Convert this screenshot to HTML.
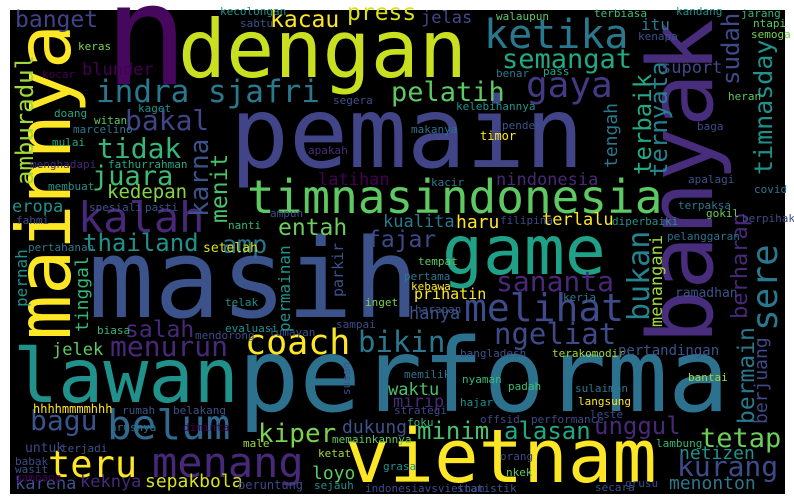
<!DOCTYPE html>
<html><head><meta charset="utf-8"><style>
html,body{margin:0;padding:0;background:#fff;}
svg{display:block;}
text{font-family:"DejaVu Sans Mono","Liberation Mono",monospace;}
</style></head><body>
<svg id="cloud" width="794" height="504" viewBox="0 0 794 504" xmlns="http://www.w3.org/2000/svg">
<rect x="10" y="10" width="775" height="484" fill="#000"/>
<g id="words"></g>
</svg>
<script>
// word list, sizes (weights), colours and orientation (1 = vertical)
const words = ["pemain","masih","performa","vietnam","dengan","lawan","game","mainnya","banyak","n","ketika","gaya","semangat","pelatih","indra sjafri","banget","kacau","press","jelas","blunder","bakal","tidak","juara","kedepan","eropa","kalah","amburadul","karna","menit","latihan","timnasindonesia","nindonesia","entah","amp","fajar","kualita","haru","terlalu","sananta","melihat","hanya","prihatin","ngeliat","bikin","coach","thailand","salah","menurun","jelek","belum","bagu","teru","menang","kiper","dukung","loyo","keknya","karena","sepakbola","waktu","mirip","minim","alasan","unggul","tetap","netizen","kurang","menonton","bukan","menangani","berharap","sere","bermain","berjuang","terbaik","ternyata","tengah","suport","sudah","timnasday","itu","tinggal","pernah","parkir","permainan"];
const sizes = [98,110,102,74,80,75,68,75,90,140,40,36,27,27,31,23,23,23,17,17,28,28,27,19,17,42,24,26,23,17,46,17,23,25,23,17,18,17,28,38,17,15,29,29,35,24,23,28,17,41,28,37,42,26,18,18,17,17,18,17,17,24,24,24,27,18,28,18,30,17,22,36,23,18,24,24,18,17,24,25,16,18,16,15,16];
const colors = ["#414487","#3b528b","#2c728e","#fde725","#c8e020","#21918c","#1fa187","#fde725","#472d7b","#46085c","#2a788e","#443983","#22a884","#5ec962","#2a788e","#414487","#fde725","#d8e219","#3e4a89","#440154","#414487","#35b779","#3fbc73","#86d549","#21918c","#482878","#a0da39","#3b528b","#4ac16d","#440154","#5ec962","#482878","#6ccd5a","#2c728e","#3e4a89","#2a788e","#fde725","#fde725","#482878","#3e4a89","#3b528b","#fde725","#3e4a89","#2a788e","#fde725","#21918c","#482878","#482878","#5ec962","#31688e","#3b528b","#fde725","#482878","#7ad151","#3b528b","#5ec962","#482878","#3b528b","#d8e219","#4ac16d","#482878","#4ac16d","#22a884","#482878","#6ccd5a","#21918c","#3e4a89","#2a788e","#25838e","#a0da39","#482878","#2a788e","#2a788e","#3e4a89","#22a884","#25838e","#2a788e","#3e4a89","#3e4a89","#21918c","#2a788e","#35b779","#21918c","#3b528b","#21918c"];
const vertical = [0,0,0,0,0,0,0,1,1,0,0,0,0,0,0,0,0,0,0,0,0,0,0,0,0,0,1,1,1,0,0,0,0,0,0,0,0,0,0,0,0,0,0,0,0,0,0,0,0,0,0,0,0,0,0,0,0,0,0,0,0,0,0,0,0,0,0,0,1,1,1,1,1,1,1,1,1,0,1,1,0,1,1,1,1];
// layout anchor (baseline start) per word
const anchors = [[230,167],[88,317],[238,411],[345,482],[178,77],[13,402],[442,274],[70,340],[712,344],[104,84],[484,48],[526,97],[502,68],[391,101],[96,102],[15,27],[270,27],[347,20],[421,23],[82,75],[125,130],[97,158],[92,185],[107,198],[12,212],[78,232],[33,185],[208,217],[227,223],[318,185],[247,213],[496,185],[278,235],[222,253],[367,247],[383,227],[456,228],[542,225],[496,291],[464,321],[409,319],[414,299],[494,344],[358,352],[245,354],[83,251],[125,337],[110,356],[52,355],[107,439],[30,430],[48,477],[152,477],[258,442],[342,433],[312,479],[80,487],[15,489],[145,487],[388,395],[393,407],[417,439],[504,439],[594,434],[700,447],[679,459],[677,476],[669,489],[649,321],[662,327],[747,319],[777,331],[754,424],[767,424],[651,175],[667,177],[617,168],[661,73],[739,85],[772,175],[641,30],[88,332],[27,307],[343,297],[290,332]];

// small filler words
const smallWords = ["walaupun","terbiasa","kandang","jarang","ntapi","semoga","kenapa","benar","pass","kelebihannya","heran","makanya","pendek","timor","baga","kacir","apalagi","covid","terpaksa","gokil","berpihak","diperbaiki","pelanggaran","filipina","kecolongan","sabtu","keras","kocar","kaget","segera","doang","witan","marcelino","mulai","menghadapi","fathurrahman","membuat","spesiali","pasti","fahmi","nanti","ampun","apakah","pertahanan","setelah","telak","inget","biasa","evaluasi","lumayan","sampai","mendorong","hhhhmmmmhhh","rumah","belakang","hrusnya","diminta","untuk","terjadi","male","memainkannya","babak","ketat","wasit","gampang","beruntung","sejauh","tempat","pertama","kebawa","harapan","kerja","ramadhan","bangladesh","terakomodir","pertandingan","memiliki","nyaman","padah","sulaiman","bantai","hajar","langsung","strategi","leste","offsid","performance","foku","lambung","orang","nkek","secara","grusu","statistik","indonesiavsvietnam","grasa","susah"];
const smallSizes = [11,11,11,11,11,11,11,11,11,11,11,11,11,12,11,11,11,11,11,11,11,11,11,11,11,11,11,11,11,11,11,11,11,11,11,11,11,11,11,11,11,11,11,11,13,11,11,11,11,11,11,11,12,11,11,11,11,13,11,11,11,11,11,11,11,12,11,11,11,11,11,11,13,11,11,14,11,11,11,11,11,11,11,11,11,11,11,11,11,11,11,11,11,11,11,11,11];
const smallColors = ["#5ec962","#3fbc73","#21918c","#35b779","#5ec962","#7ad151","#3b528b","#2a788e","#22a884","#21918c","#5ec962","#2c728e","#3b528b","#fde725","#3e4a89","#2a788e","#3b528b","#2a788e","#2a788e","#6ccd5a","#3e4a89","#21918c","#2c728e","#3e4a89","#21918c","#3b528b","#7ad151","#440154","#21918c","#3b528b","#22a884","#5ec962","#2a788e","#22a884","#482878","#22a884","#21918c","#3b528b","#3b528b","#3e4a89","#35b779","#3e4a89","#472d7b","#2a788e","#d8e219","#21918c","#7ad151","#35b779","#21918c","#3b528b","#3e4a89","#3e4a89","#fde725","#3b528b","#3b528b","#2c728e","#440154","#3e4a89","#3b528b","#a0da39","#5ec962","#3e4a89","#a0da39","#3b528b","#440154","#3e4a89","#21918c","#5ec962","#2a788e","#fde725","#3b528b","#2a788e","#3b528b","#3b528b","#a0da39","#3b528b","#2c728e","#35b779","#3fbc73","#2a788e","#a0da39","#21918c","#fde725","#3e4a89","#3e4a89","#3e4a89","#3e4a89","#35b779","#35b779","#3e4a89","#5ec962","#3b528b","#3e4a89","#3b528b","#3e4a89","#21918c","#3b528b"];
const smallAnchors = [[496,20],[594,17],[676,15],[741,17],[753,27],[751,38],[638,40],[496,77],[543,75],[456,110],[728,100],[411,133],[502,129],[480,140],[697,130],[431,186],[688,183],[754,193],[678,209],[706,217],[742,222],[612,225],[667,240],[500,224],[220,15],[240,27],[78,50],[42,78],[138,112],[333,104],[54,117],[94,124],[73,133],[52,146],[30,168],[108,168],[48,190],[89,211],[145,211],[16,224],[228,229],[270,217],[308,154],[28,251],[203,252],[225,306],[365,306],[97,334],[225,332],[269,336],[336,328],[195,339],[33,413],[122,414],[173,414],[110,431],[183,431],[25,452],[61,452],[243,447],[332,443],[15,465],[318,457],[15,473],[15,481],[238,489],[314,489],[418,265],[404,280],[411,290],[415,313],[563,301],[675,297],[460,357],[552,357],[618,355],[404,378],[462,383],[508,390],[575,392],[688,381],[460,406],[578,405],[394,414],[590,418],[480,423],[531,423],[407,426],[656,447],[500,460],[506,476],[595,491],[625,487],[457,492],[365,492],[383,470],[350,395]];
const smallVertical = {"susah":1};

const NS = "http://www.w3.org/2000/svg";
const g = document.getElementById("words");
function slug(s){return s.replace(/[^a-z0-9]+/gi,"-").toLowerCase();}
function addWord(txt, size, color, anc, vert){
  const t = document.createElementNS(NS, "text");
  t.setAttribute("x", anc[0]);
  t.setAttribute("y", anc[1]);
  t.setAttribute("font-size", size);
  t.setAttribute("fill", color);
  if (vert) t.setAttribute("transform", "rotate(-90 " + anc[0] + " " + anc[1] + ")");
  t.textContent = txt;
  
  
  g.appendChild(t);
}
for (let i = 0; i < words.length; i++) {
  addWord(words[i], sizes[i], colors[i], anchors[i], vertical[i]);
}
for (let i = 0; i < smallWords.length; i++) {
  addWord(smallWords[i], smallSizes[i], smallColors[i], smallAnchors[i], smallVertical[smallWords[i]] || 0);
}
</script>
</body></html>
